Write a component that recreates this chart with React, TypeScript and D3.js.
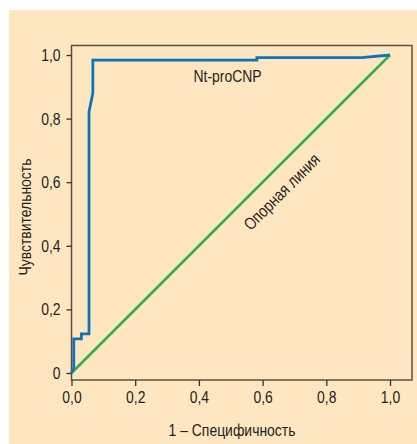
import React, { useEffect, useRef } from 'react';
import * as d3 from 'd3';

// ROC curve for Nt-proCNP (1 - specificity, sensitivity)
const rocFpr = [0, 0.007, 0.007, 0.031, 0.031, 0.055, 0.055, 0.067, 0.067, 0.582, 0.582, 0.911, 1.0];
const rocTpr = [0, 0.015, 0.107, 0.107, 0.123, 0.123, 0.822, 0.88, 0.984, 0.984, 0.992, 0.992, 1.0];
const refLine = [0, 1];
const tickValues = [0, 0.2, 0.4, 0.6, 0.8, 1.0];
const xTickLabels = ['0,0', '0,2', '0,4', '0,6', '0,8', '1,0'];
const yTickLabels = ['0', '0,2', '0,4', '0,6', '0,8', '1,0'];

const FONT = '"Liberation Sans", Arial, sans-serif';
const FS = 17;
const SX = 0.82; // narrow the glyphs like the condensed face of the original

export default function App() {
  const ref = useRef<SVGSVGElement>(null);

  useEffect(() => {
    const width = 417;
    const height = 444;
    const svg = d3.select(ref.current);
    svg.selectAll('*').remove();

    svg.append('rect').attr('x', 9).attr('y', 10).attr('width', width - 9).attr('height', height - 10).attr('fill', '#fde6c0');

    const x = d3.scaleLinear().domain([0, 1]).range([71.5, 390]);
    const y = d3.scaleLinear().domain([0, 1]).range([373, 55]);

    const frame = { left: 71.5, top: 45.5, right: 412, bottom: 380 };
    svg.append('rect')
      .attr('x', frame.left).attr('y', frame.top)
      .attr('width', frame.right - frame.left).attr('height', frame.bottom - frame.top)
      .attr('fill', 'none').attr('stroke', '#5b5046').attr('stroke-width', 1.5);

    const label = (tx: number, ty: number, rot: number, txt: string) =>
      svg.append('g').attr('transform', `translate(${tx},${ty}) rotate(${rot}) scale(${SX},1)`)
        .append('text').attr('text-anchor', 'middle')
        .attr('font-family', FONT).attr('font-size', FS).attr('fill', '#231f20').text(txt);

    // x axis
    const xAxis = svg.append('g').attr('transform', `translate(0,${frame.bottom})`)
      .call(d3.axisBottom(x).tickValues(tickValues).tickSize(6).tickPadding(5)
        .tickFormat((d, i) => xTickLabels[i]));
    xAxis.select('.domain').remove();
    xAxis.selectAll('line').attr('stroke', '#3a332c').attr('stroke-width', 1.3);
    xAxis.selectAll('text').attr('font-family', FONT).attr('font-size', FS).attr('fill', '#231f20')
      .attr('transform', `scale(${SX},1)`);

    // y axis
    const yAxis = svg.append('g').attr('transform', `translate(${frame.left},0)`)
      .call(d3.axisLeft(y).tickValues(tickValues).tickSize(5).tickPadding(7)
        .tickFormat((d, i) => yTickLabels[i]));
    yAxis.select('.domain').remove();
    yAxis.selectAll('line').attr('stroke', '#3a332c').attr('stroke-width', 1.3);
    yAxis.selectAll('text').attr('font-family', FONT).attr('font-size', FS).attr('fill', '#231f20')
      .attr('x', -11 / SX).attr('transform', `scale(${SX},1)`);

    // reference line
    const line = d3.line<number>().x(d => x(d)).y(d => y(d));
    svg.append('path').datum(refLine).attr('d', line)
      .attr('fill', 'none').attr('stroke', '#2bb04a').attr('stroke-width', 2.5);

    // ROC curve
    const roc = d3.line<number>().x(d => x(rocFpr[d])).y(d => y(rocTpr[d]));
    svg.append('path').datum(d3.range(rocFpr.length)).attr('d', roc)
      .attr('fill', 'none').attr('stroke', '#0f73bb').attr('stroke-width', 2.8)
      .attr('stroke-linejoin', 'miter');

    label(x(0.49), 82, 0, 'Nt-proCNP');
    label(x(0.66), y(0.57), -45, 'Опорная линия').attr('dy', '0.35em');
    label(232, 436, 0, '1 – Специфичность');
    label(25, 217, -90, 'Чувствительность').attr('dy', '0.35em');
  }, []);

  return (
    <svg ref={ref} width={417} height={444}
      style={{ position: 'absolute', left: 0, top: 0, display: 'block', background: '#fff' }} />
  );
}
